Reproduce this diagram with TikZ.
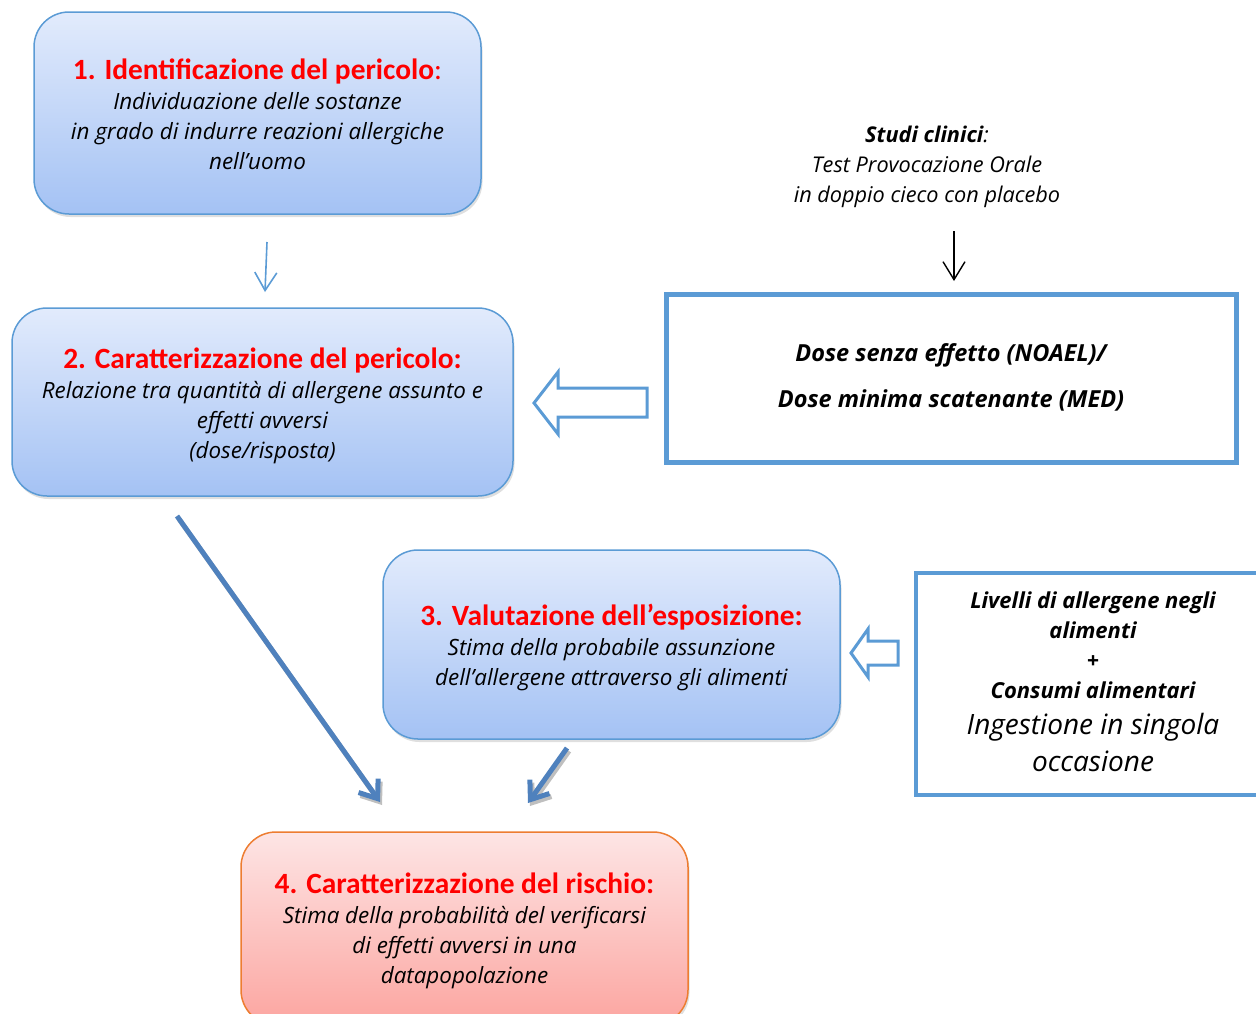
\documentclass[tikz,border=0pt]{standalone}
\usepackage{fontspec}
\setmainfont{Open Sans}
\newfontfamily\hd{Carlito}
\newfontfamily\body{Open Sans}
\usetikzlibrary{shadows,arrows.meta}
\definecolor{bord}{RGB}{91,155,213}
\definecolor{arr}{RGB}{79,129,189}
\definecolor{btop}{RGB}{226,235,252}
\definecolor{bbot}{RGB}{164,194,244}
\definecolor{rtop}{RGB}{253,229,229}
\definecolor{rbot}{RGB}{252,165,160}
\definecolor{orbord}{RGB}{237,125,49}
\definecolor{hdred}{RGB}{255,0,0}
\newcommand\hdl[2]{{\rule{0pt}{#1pt}\hd\bfseries\upshape\fontsize{29.4}{31}\selectfont\color{hdred}#2}}
\newcommand\hdc{{\hd\upshape\fontsize{29.4}{31}\selectfont\color{hdred}:}}
\tikzset{
  box/.style={rounded corners=35pt, line width=1.5pt, align=center, inner sep=0pt,
    drop shadow={opacity=0.25, shadow xshift=1.5pt, shadow yshift=-3pt}},
  bluebox/.style={box, draw=bord, top color=btop, bottom color=bbot},
  redbox/.style={box, draw=orbord, top color=rtop, bottom color=rbot},
  plainbox/.style={draw=bord, fill=white, align=center, inner sep=0pt},
  bodyf/.style={font=\body\itshape\fontsize{22.4}{30}\selectfont},
  bigarr/.style={draw=arr, line width=5pt, -{Straight Barb[length=16pt,width=24pt]}},
  shadarr/.style={draw=black!25, line width=5pt, -{Straight Barb[length=16pt,width=24pt]}},
  blockarr/.style={draw=bord, line width=3pt, fill=white, line join=miter},
}
\begin{document}
\begin{tikzpicture}[x=1pt,y=-1pt]
\useasboundingbox (0,0) rectangle (1256,1013);
\clip (0,0) rectangle (1256,1013);

\node[bluebox, minimum width=447pt, minimum height=202pt, bodyf] (b1) at (257.5,113)
 {\hdl{24}{1. Identificazione del pericolo}\hdc\\ Individuazione delle sostanze\\ in grado di indurre reazioni allergiche\\ nell’uomo};

\node[bluebox, minimum width=501pt, minimum height=188pt, bodyf] (b2) at (262.5,402)
 {\hdl{29}{2. Caratterizzazione del pericolo:}\\ Relazione tra quantità di allergene assunto e\\ effetti avversi\\ (dose/risposta)};

\node[bluebox, minimum width=457pt, minimum height=189pt, bodyf] (b3) at (611.5,644.5)
 {\hdl{27}{3. Valutazione dell’esposizione:}\\ Stima della probabile assunzione\\ dell’allergene attraverso gli alimenti};

\node[redbox, minimum width=447pt, minimum height=193pt, bodyf] (b4) at (464.5,928.5)
 {\hdl{26}{4. Caratterizzazione del rischio:}\\ Stima della probabilità del verificarsi\\ di effetti avversi in una\\ datapopolazione};

\node[plainbox, line width=5pt, minimum width=570pt, minimum height=168pt,
      font=\body\bfseries\itshape\fontsize{23.5}{30}\selectfont] (noael) at (951,378)
 {Dose senza effetto (NOAEL)/\\[16pt] Dose minima scatenante (MED)\rule[-4pt]{0pt}{4pt}};

\node[plainbox, line width=4pt, minimum width=354pt, minimum height=222pt,
      font=\body\bfseries\itshape\fontsize{22}{30}\selectfont] (liv) at (1093,684)
 {Livelli di allergene negli\\ alimenti\\ +\\ Consumi alimentari\\[6pt]
  {\mdseries\fontsize{28}{37}\selectfont Ingestione in singola}\\[7pt]
  {\mdseries\fontsize{28}{37}\selectfont occasione\rule[-5pt]{0pt}{5pt}}};

\node[align=center, font=\body\itshape\fontsize{21.7}{30}\selectfont] (studi) at (927,167)
 {{\bfseries Studi clinici}:\\ Test Provocazione Orale\\ in doppio cieco con placebo};

% connectors
\coordinate (s1) at (954,231);
\coordinate (s2) at (954,281);
\draw[line width=1.4pt, -{Straight Barb[length=18pt,width=22pt]}] (s1) -- (s2);

\coordinate (p1) at (267,242);
\coordinate (p2) at (265,292);
\draw[draw=bord, line width=1.6pt, -{Straight Barb[length=18pt,width=22pt]}] (p1) -- (p2);

\coordinate (d1) at (177,516);
\coordinate (d2) at (380,802);
\coordinate (e1) at (567,748);
\coordinate (e2) at (528,803);
\draw[shadarr] ([shift={(2,3)}]d1) -- ([shift={(2,3)}]d2);
\draw[shadarr] ([shift={(2,3)}]e1) -- ([shift={(2,3)}]e2);
\draw[bigarr] (d1) -- (d2);
\draw[bigarr] (e1) -- (e2);

% block arrows
\draw[blockarr] (647,388) -- (558,388) -- (558,372) -- (534,403) -- (558,434) -- (558,417) -- (647,417) -- cycle;
\draw[blockarr] (898,641) -- (868,641) -- (868,629) -- (851,653) -- (868,677) -- (868,665) -- (898,665) -- cycle;
\end{tikzpicture}
\end{document}
